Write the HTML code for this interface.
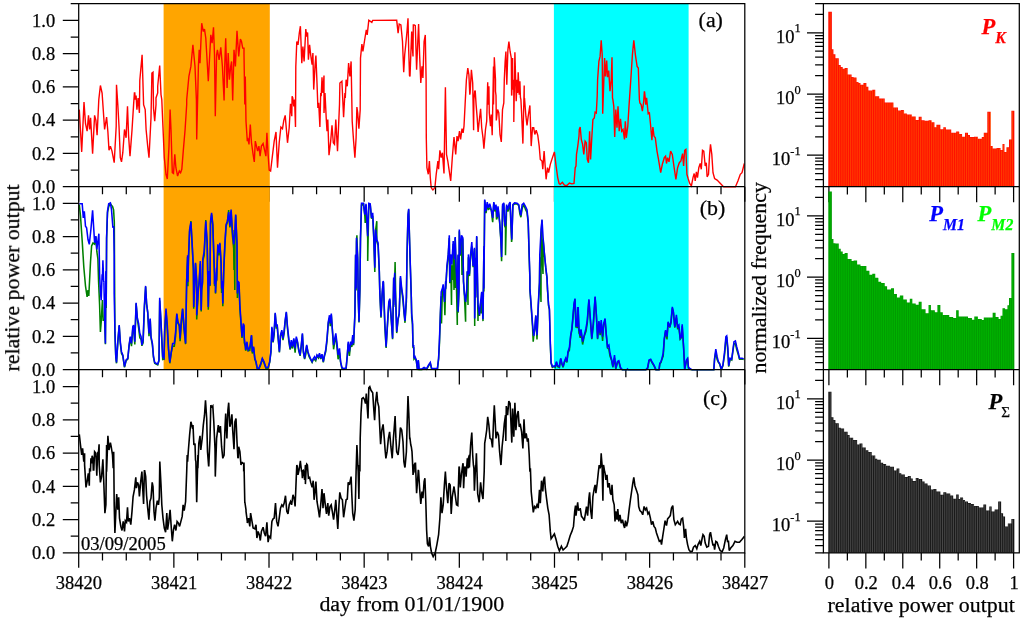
<!DOCTYPE html>
<html><head><meta charset="utf-8"><title>chart</title>
<style>html,body{margin:0;padding:0;background:#fff;overflow:hidden}body{width:1024px;height:622px;position:relative;font-family:"Liberation Serif",serif}</style></head>
<body>
<svg width="1024" height="622" viewBox="0 0 1024 622" style="position:absolute;left:0;top:0">
<rect width="1024" height="622" fill="#fff"/>
<path d="M70.70 3.60L78.70 3.60M62.80 186.70L78.70 186.70M70.70 170.07L78.70 170.07M62.80 153.44L78.70 153.44M70.70 136.81L78.70 136.81M62.80 120.18L78.70 120.18M70.70 103.55L78.70 103.55M62.80 86.92L78.70 86.92M70.70 70.29L78.70 70.29M62.80 53.66L78.70 53.66M70.70 37.03L78.70 37.03M62.80 20.40L78.70 20.40M62.80 369.60L78.70 369.60M70.70 352.97L78.70 352.97M62.80 336.34L78.70 336.34M70.70 319.71L78.70 319.71M62.80 303.08L78.70 303.08M70.70 286.45L78.70 286.45M62.80 269.82L78.70 269.82M70.70 253.19L78.70 253.19M62.80 236.56L78.70 236.56M70.70 219.93L78.70 219.93M62.80 203.30L78.70 203.30M62.80 552.80L78.70 552.80M70.70 536.17L78.70 536.17M62.80 519.54L78.70 519.54M70.70 502.91L78.70 502.91M62.80 486.28L78.70 486.28M70.70 469.65L78.70 469.65M62.80 453.02L78.70 453.02M70.70 436.39L78.70 436.39M62.80 419.76L78.70 419.76M70.70 403.13L78.70 403.13M62.80 386.50L78.70 386.50M78.70 186.70L78.70 201.70M102.49 186.70L102.49 194.30M126.28 186.70L126.28 194.30M150.07 186.70L150.07 194.30M173.86 186.70L173.86 201.70M197.65 186.70L197.65 194.30M221.44 186.70L221.44 194.30M245.22 186.70L245.22 194.30M269.01 186.70L269.01 201.70M292.80 186.70L292.80 194.30M316.59 186.70L316.59 194.30M340.38 186.70L340.38 194.30M364.17 186.70L364.17 201.70M387.96 186.70L387.96 194.30M411.75 186.70L411.75 194.30M435.54 186.70L435.54 194.30M459.33 186.70L459.33 201.70M483.12 186.70L483.12 194.30M506.91 186.70L506.91 194.30M530.70 186.70L530.70 194.30M554.49 186.70L554.49 201.70M578.27 186.70L578.27 194.30M602.06 186.70L602.06 194.30M625.85 186.70L625.85 194.30M649.64 186.70L649.64 201.70M673.43 186.70L673.43 194.30M697.22 186.70L697.22 194.30M721.01 186.70L721.01 194.30M744.80 186.70L744.80 201.70M78.70 369.60L78.70 384.60M102.49 369.60L102.49 377.20M126.28 369.60L126.28 377.20M150.07 369.60L150.07 377.20M173.86 369.60L173.86 384.60M197.65 369.60L197.65 377.20M221.44 369.60L221.44 377.20M245.22 369.60L245.22 377.20M269.01 369.60L269.01 384.60M292.80 369.60L292.80 377.20M316.59 369.60L316.59 377.20M340.38 369.60L340.38 377.20M364.17 369.60L364.17 384.60M387.96 369.60L387.96 377.20M411.75 369.60L411.75 377.20M435.54 369.60L435.54 377.20M459.33 369.60L459.33 384.60M483.12 369.60L483.12 377.20M506.91 369.60L506.91 377.20M530.70 369.60L530.70 377.20M554.49 369.60L554.49 384.60M578.27 369.60L578.27 377.20M602.06 369.60L602.06 377.20M625.85 369.60L625.85 377.20M649.64 369.60L649.64 384.60M673.43 369.60L673.43 377.20M697.22 369.60L697.22 377.20M721.01 369.60L721.01 377.20M744.80 369.60L744.80 384.60M78.70 552.80L78.70 567.80M102.49 552.80L102.49 560.40M126.28 552.80L126.28 560.40M150.07 552.80L150.07 560.40M173.86 552.80L173.86 567.80M197.65 552.80L197.65 560.40M221.44 552.80L221.44 560.40M245.22 552.80L245.22 560.40M269.01 552.80L269.01 567.80M292.80 552.80L292.80 560.40M316.59 552.80L316.59 560.40M340.38 552.80L340.38 560.40M364.17 552.80L364.17 567.80M387.96 552.80L387.96 560.40M411.75 552.80L411.75 560.40M435.54 552.80L435.54 560.40M459.33 552.80L459.33 567.80M483.12 552.80L483.12 560.40M506.91 552.80L506.91 560.40M530.70 552.80L530.70 560.40M554.49 552.80L554.49 567.80M578.27 552.80L578.27 560.40M602.06 552.80L602.06 560.40M625.85 552.80L625.85 560.40M649.64 552.80L649.64 567.80M673.43 552.80L673.43 560.40M697.22 552.80L697.22 560.40M721.01 552.80L721.01 560.40M744.80 552.80L744.80 567.80M828.90 186.70L828.90 202.30M847.37 186.70L847.37 194.50M865.84 186.70L865.84 202.30M884.31 186.70L884.31 194.50M902.78 186.70L902.78 202.30M921.25 186.70L921.25 194.50M939.72 186.70L939.72 202.30M958.19 186.70L958.19 194.50M976.66 186.70L976.66 202.30M995.13 186.70L995.13 194.50M1013.60 186.70L1013.60 202.30M828.90 369.60L828.90 385.20M847.37 369.60L847.37 377.40M865.84 369.60L865.84 385.20M884.31 369.60L884.31 377.40M902.78 369.60L902.78 385.20M921.25 369.60L921.25 377.40M939.72 369.60L939.72 385.20M958.19 369.60L958.19 377.40M976.66 369.60L976.66 385.20M995.13 369.60L995.13 377.40M1013.60 369.60L1013.60 385.20M828.90 552.80L828.90 568.40M847.37 552.80L847.37 560.60M865.84 552.80L865.84 568.40M884.31 552.80L884.31 560.60M902.78 552.80L902.78 568.40M921.25 552.80L921.25 560.60M939.72 552.80L939.72 568.40M958.19 552.80L958.19 560.60M976.66 552.80L976.66 568.40M995.13 552.80L995.13 560.60M1013.60 552.80L1013.60 568.40M815.10 552.80L823.40 552.80M807.00 32.80L823.40 32.80M815.10 14.38L823.40 14.38M815.10 3.60L823.40 3.60M807.00 94.00L823.40 94.00M815.10 75.58L823.40 75.58M815.10 64.80L823.40 64.80M815.10 57.15L823.40 57.15M815.10 51.22L823.40 51.22M815.10 46.38L823.40 46.38M815.10 42.28L823.40 42.28M815.10 38.73L823.40 38.73M815.10 35.60L823.40 35.60M807.00 155.20L823.40 155.20M815.10 136.78L823.40 136.78M815.10 126.00L823.40 126.00M815.10 118.35L823.40 118.35M815.10 112.42L823.40 112.42M815.10 107.58L823.40 107.58M815.10 103.48L823.40 103.48M815.10 99.93L823.40 99.93M815.10 96.80L823.40 96.80M815.10 179.55L823.40 179.55M815.10 173.62L823.40 173.62M815.10 168.78L823.40 168.78M815.10 164.68L823.40 164.68M815.10 161.13L823.40 161.13M815.10 158.00L823.40 158.00M807.00 215.90L823.40 215.90M815.10 197.48L823.40 197.48M815.10 186.70L823.40 186.70M807.00 277.10L823.40 277.10M815.10 258.68L823.40 258.68M815.10 247.90L823.40 247.90M815.10 240.25L823.40 240.25M815.10 234.32L823.40 234.32M815.10 229.48L823.40 229.48M815.10 225.38L823.40 225.38M815.10 221.83L823.40 221.83M815.10 218.70L823.40 218.70M807.00 338.30L823.40 338.30M815.10 319.88L823.40 319.88M815.10 309.10L823.40 309.10M815.10 301.45L823.40 301.45M815.10 295.52L823.40 295.52M815.10 290.68L823.40 290.68M815.10 286.58L823.40 286.58M815.10 283.03L823.40 283.03M815.10 279.90L823.40 279.90M815.10 362.65L823.40 362.65M815.10 356.72L823.40 356.72M815.10 351.88L823.40 351.88M815.10 347.78L823.40 347.78M815.10 344.23L823.40 344.23M815.10 341.10L823.40 341.10M807.00 398.80L823.40 398.80M815.10 380.38L823.40 380.38M815.10 369.60L823.40 369.60M807.00 460.00L823.40 460.00M815.10 441.58L823.40 441.58M815.10 430.80L823.40 430.80M815.10 423.15L823.40 423.15M815.10 417.22L823.40 417.22M815.10 412.38L823.40 412.38M815.10 408.28L823.40 408.28M815.10 404.73L823.40 404.73M815.10 401.60L823.40 401.60M807.00 521.20L823.40 521.20M815.10 502.78L823.40 502.78M815.10 492.00L823.40 492.00M815.10 484.35L823.40 484.35M815.10 478.42L823.40 478.42M815.10 473.58L823.40 473.58M815.10 469.48L823.40 469.48M815.10 465.93L823.40 465.93M815.10 462.80L823.40 462.80M815.10 545.55L823.40 545.55M815.10 539.62L823.40 539.62M815.10 534.78L823.40 534.78M815.10 530.68L823.40 530.68M815.10 527.13L823.40 527.13M815.10 524.00L823.40 524.00" stroke="#000" stroke-width="1.25" fill="none"/>
<rect x="163.6" y="3.6" width="106.2" height="366.0" fill="#ffa500"/>
<rect x="553.9" y="3.6" width="134.7" height="366.0" fill="#00ffff"/>
<defs><clipPath id="ca"><rect x="78.7" y="3.6" width="666.1" height="187.1"/></clipPath><clipPath id="cb"><rect x="78.7" y="186.7" width="666.1" height="183.7"/></clipPath><clipPath id="cc"><rect x="78.7" y="369.6" width="666.1" height="189.2"/></clipPath></defs>
<path d="M828.31 186.70L828.31 11.80 L831.86 11.80L831.86 49.30 L833.44 49.30L833.44 54.30 L835.41 54.30L835.41 58.20 L838.77 58.20L838.77 65.10 L840.74 65.10L840.74 67.10 L842.71 67.10L842.71 68.70 L844.69 68.70L844.69 68.10 L847.65 68.10L847.65 74.60 L851.59 74.60L851.59 76.90 L853.56 76.90L853.56 77.50 L856.52 77.50L856.52 81.90 L858.50 81.90L858.50 82.90 L860.47 82.90L860.47 84.80 L863.43 84.80L863.43 82.90 L866.39 82.90L866.39 86.80 L868.36 86.80L868.36 90.40 L872.31 90.40L872.31 89.80 L875.26 89.80L875.26 96.30 L879.21 96.30L879.21 98.60 L881.18 98.60L881.18 98.60 L884.73 98.60L884.73 102.60 L887.10 102.60L887.10 102.60 L890.06 102.60L890.06 102.60 L893.41 102.60L893.41 107.50 L897.95 107.50L897.95 110.50 L900.91 110.50L900.91 110.10 L903.87 110.10L903.87 113.40 L906.83 113.40L906.83 114.40 L911.76 114.40L911.76 116.40 L915.71 116.40L915.71 120.00 L918.67 120.00L918.67 116.80 L921.63 116.80L921.63 120.30 L924.58 120.30L924.58 120.70 L928.53 120.70L928.53 120.20 L931.49 120.20L931.49 122.30 L934.45 122.30L934.45 127.20 L936.42 127.20L936.42 124.80 L940.37 124.80L940.37 129.20 L943.33 129.20L943.33 127.20 L945.89 127.20L945.89 129.60 L951.22 129.60L951.22 132.70 L956.15 132.70L956.15 131.60 L959.11 131.60L959.11 134.10 L962.07 134.10L962.07 136.70 L965.03 136.70L965.03 132.70 L967.99 132.70L967.99 135.10 L969.96 135.10L969.96 137.10 L973.90 137.10L973.90 136.70 L977.85 136.70L977.85 138.70 L981.79 138.70L981.79 137.10 L983.77 137.10L983.77 132.70 L987.32 132.70L987.32 111.80 L990.67 111.80L990.67 146.00 L992.65 146.00L992.65 148.50 L996.59 148.50L996.59 147.90 L1000.54 147.90L1000.54 149.90 L1002.51 149.90L1002.51 144.00 L1004.48 144.00L1004.48 151.90 L1006.45 151.90L1006.45 147.30 L1009.02 147.30L1009.02 139.40 L1011.39 139.40L1011.39 110.80 L1014.35 110.80L1014.35 186.70 Z" fill="#ff0a00"/>
<path d="M830.15 12.30 V186.70M832.00 49.80 V186.70M833.84 54.80 V186.70M835.68 58.70 V186.70M837.52 58.70 V186.70M839.36 65.60 V186.70M841.21 67.60 V186.70M843.05 69.20 V186.70M844.89 68.60 V186.70M846.73 68.60 V186.70M848.57 75.10 V186.70M850.42 75.10 V186.70M852.26 77.40 V186.70M854.10 78.00 V186.70M855.94 78.00 V186.70M857.78 82.40 V186.70M859.63 83.40 V186.70M861.47 85.30 V186.70M863.31 85.30 V186.70M865.15 83.40 V186.70M866.99 87.30 V186.70M868.83 90.90 V186.70M870.68 90.90 V186.70M872.52 90.30 V186.70M874.36 90.30 V186.70M876.20 96.80 V186.70M878.04 96.80 V186.70M879.89 99.10 V186.70M881.73 99.10 V186.70M883.57 99.10 V186.70M885.41 103.10 V186.70M887.25 103.10 V186.70M889.10 103.10 V186.70M890.94 103.10 V186.70M892.78 103.10 V186.70M894.62 108.00 V186.70M896.46 108.00 V186.70M898.31 111.00 V186.70M900.15 111.00 V186.70M901.99 110.60 V186.70M903.83 110.60 V186.70M905.67 113.90 V186.70M907.51 114.90 V186.70M909.36 114.90 V186.70M911.20 114.90 V186.70M913.04 116.90 V186.70M914.88 116.90 V186.70M916.72 120.50 V186.70M918.57 120.50 V186.70M920.41 117.30 V186.70M922.25 120.80 V186.70M924.09 120.80 V186.70M925.93 121.20 V186.70M927.78 121.20 V186.70M929.62 120.70 V186.70M931.46 120.70 V186.70M933.30 122.80 V186.70M935.14 127.70 V186.70M936.99 125.30 V186.70M938.83 125.30 V186.70M940.67 129.70 V186.70M942.51 129.70 V186.70M944.35 127.70 V186.70M946.20 130.10 V186.70M948.04 130.10 V186.70M949.88 130.10 V186.70M951.72 133.20 V186.70M953.56 133.20 V186.70M955.40 133.20 V186.70M957.25 132.10 V186.70M959.09 132.10 V186.70M960.93 134.60 V186.70M962.77 137.20 V186.70M964.61 137.20 V186.70M966.46 133.20 V186.70M968.30 135.60 V186.70M970.14 137.60 V186.70M971.98 137.60 V186.70M973.82 137.60 V186.70M975.67 137.20 V186.70M977.51 137.20 V186.70M979.35 139.20 V186.70M981.19 139.20 V186.70M983.03 137.60 V186.70M984.88 133.20 V186.70M986.72 133.20 V186.70M988.56 112.30 V186.70M990.40 112.30 V186.70M992.24 146.50 V186.70M994.08 149.00 V186.70M995.93 149.00 V186.70M997.77 148.40 V186.70M999.61 148.40 V186.70M1001.45 150.40 V186.70M1003.29 144.50 V186.70M1005.14 152.40 V186.70M1006.98 147.80 V186.70M1008.82 147.80 V186.70M1010.66 139.90 V186.70M1012.50 111.30 V186.70" stroke="#ff8a00" stroke-width="0.40" fill="none"/>
<path d="M828.31 369.60L828.31 191.50 L831.86 191.50L831.86 238.90 L833.44 238.90L833.44 243.20 L835.41 243.20L835.41 243.60 L838.77 243.60L838.77 248.70 L840.74 248.70L840.74 251.50 L842.71 251.50L842.71 254.10 L844.69 254.10L844.69 253.10 L847.65 253.10L847.65 259.00 L851.59 259.00L851.59 261.00 L853.56 261.00L853.56 260.60 L857.12 260.60L857.12 264.50 L860.47 264.50L860.47 265.90 L863.43 265.90L863.43 265.90 L866.39 265.90L866.39 270.80 L869.35 270.80L869.35 274.80 L872.31 274.80L872.31 273.80 L875.26 273.80L875.26 277.70 L878.22 277.70L878.22 281.70 L881.18 281.70L881.18 283.10 L884.73 283.10L884.73 286.20 L887.10 286.20L887.10 289.60 L891.05 289.60L891.05 288.20 L894.01 288.20L894.01 294.10 L896.97 294.10L896.97 297.50 L899.92 297.50L899.92 295.50 L903.28 295.50L903.28 299.40 L906.83 299.40L906.83 302.40 L909.79 302.40L909.79 298.80 L912.35 298.80L912.35 303.40 L915.71 303.40L915.71 304.80 L918.67 304.80L918.67 301.70 L921.63 301.70L921.63 309.20 L925.57 309.20L925.57 313.20 L928.53 313.20L928.53 304.90 L930.90 304.90L930.90 310.20 L934.84 310.20L934.84 312.20 L937.41 312.20L937.41 304.90 L940.37 304.90L940.37 312.20 L942.73 312.20L942.73 315.10 L949.24 315.10L949.24 317.10 L953.19 317.10L953.19 318.10 L956.15 318.10L956.15 310.20 L958.71 310.20L958.71 316.50 L964.04 316.50L964.04 316.50 L967.99 316.50L967.99 318.10 L971.93 318.10L971.93 319.70 L974.30 319.70L974.30 316.50 L977.85 316.50L977.85 319.10 L981.79 319.10L981.79 320.00 L983.77 320.00L983.77 317.50 L988.70 317.50L988.70 317.50 L992.65 317.50L992.65 312.80 L995.60 312.80L995.60 317.10 L998.56 317.10L998.56 319.10 L1000.54 319.10L1000.54 315.70 L1002.51 315.70L1002.51 308.20 L1005.07 308.20L1005.07 309.20 L1007.44 309.20L1007.44 305.30 L1009.02 305.30L1009.02 298.00 L1011.39 298.00L1011.39 253.00 L1014.35 253.00L1014.35 369.60 Z" fill="#009a00"/>
<path d="M830.15 192.00 V369.60M832.00 239.40 V369.60M833.84 243.70 V369.60M835.68 244.10 V369.60M837.52 244.10 V369.60M839.36 249.20 V369.60M841.21 252.00 V369.60M843.05 254.60 V369.60M844.89 253.60 V369.60M846.73 253.60 V369.60M848.57 259.50 V369.60M850.42 259.50 V369.60M852.26 261.50 V369.60M854.10 261.10 V369.60M855.94 261.10 V369.60M857.78 265.00 V369.60M859.63 265.00 V369.60M861.47 266.40 V369.60M863.31 266.40 V369.60M865.15 266.40 V369.60M866.99 271.30 V369.60M868.83 271.30 V369.60M870.68 275.30 V369.60M872.52 274.30 V369.60M874.36 274.30 V369.60M876.20 278.20 V369.60M878.04 278.20 V369.60M879.89 282.20 V369.60M881.73 283.60 V369.60M883.57 283.60 V369.60M885.41 286.70 V369.60M887.25 290.10 V369.60M889.10 290.10 V369.60M890.94 290.10 V369.60M892.78 288.70 V369.60M894.62 294.60 V369.60M896.46 294.60 V369.60M898.31 298.00 V369.60M900.15 296.00 V369.60M901.99 296.00 V369.60M903.83 299.90 V369.60M905.67 299.90 V369.60M907.51 302.90 V369.60M909.36 302.90 V369.60M911.20 299.30 V369.60M913.04 303.90 V369.60M914.88 303.90 V369.60M916.72 305.30 V369.60M918.57 305.30 V369.60M920.41 302.20 V369.60M922.25 309.70 V369.60M924.09 309.70 V369.60M925.93 313.70 V369.60M927.78 313.70 V369.60M929.62 305.40 V369.60M931.46 310.70 V369.60M933.30 310.70 V369.60M935.14 312.70 V369.60M936.99 312.70 V369.60M938.83 305.40 V369.60M940.67 312.70 V369.60M942.51 312.70 V369.60M944.35 315.60 V369.60M946.20 315.60 V369.60M948.04 315.60 V369.60M949.88 317.60 V369.60M951.72 317.60 V369.60M953.56 318.60 V369.60M955.40 318.60 V369.60M957.25 310.70 V369.60M959.09 317.00 V369.60M960.93 317.00 V369.60M962.77 317.00 V369.60M964.61 317.00 V369.60M966.46 317.00 V369.60M968.30 318.60 V369.60M970.14 318.60 V369.60M971.98 320.20 V369.60M973.82 320.20 V369.60M975.67 317.00 V369.60M977.51 317.00 V369.60M979.35 319.60 V369.60M981.19 319.60 V369.60M983.03 320.50 V369.60M984.88 318.00 V369.60M986.72 318.00 V369.60M988.56 318.00 V369.60M990.40 318.00 V369.60M992.24 318.00 V369.60M994.08 313.30 V369.60M995.93 317.60 V369.60M997.77 317.60 V369.60M999.61 319.60 V369.60M1001.45 316.20 V369.60M1003.29 308.70 V369.60M1005.14 309.70 V369.60M1006.98 309.70 V369.60M1008.82 305.80 V369.60M1010.66 298.50 V369.60M1012.50 253.50 V369.60" stroke="#00cc00" stroke-width="0.50" fill="none"/>
<path d="M828.31 552.80L828.31 391.70 L831.47 391.70L831.47 417.30 L833.44 417.30L833.44 419.90 L835.41 419.90L835.41 423.30 L838.77 423.30L838.77 427.80 L840.74 427.80L840.74 428.60 L844.10 428.60L844.10 431.70 L847.65 431.70L847.65 435.10 L849.62 435.10L849.62 437.70 L853.17 437.70L853.17 440.00 L857.12 440.00L857.12 444.60 L859.48 444.60L859.48 443.60 L862.44 443.60L862.44 447.50 L865.80 447.50L865.80 450.30 L868.36 450.30L868.36 451.90 L871.71 451.90L871.71 455.40 L875.26 455.40L875.26 458.80 L877.24 458.80L877.24 459.70 L880.79 459.70L880.79 462.70 L883.16 462.70L883.16 464.10 L886.12 464.10L886.12 465.70 L890.06 465.70L890.06 466.70 L894.01 466.70L894.01 470.60 L896.57 470.60L896.57 468.60 L899.33 468.60L899.33 473.20 L901.31 473.20L901.31 474.50 L904.86 474.50L904.86 477.10 L907.82 477.10L907.82 475.90 L910.77 475.90L910.77 478.50 L912.75 478.50L912.75 481.10 L915.71 481.10L915.71 477.90 L918.67 477.90L918.67 479.10 L922.22 479.10L922.22 481.40 L924.58 481.40L924.58 483.40 L927.54 483.40L927.54 485.50 L930.90 485.50L930.90 489.50 L933.46 489.50L933.46 488.90 L936.42 488.90L936.42 491.60 L940.37 491.60L940.37 494.80 L943.33 494.80L943.33 492.20 L946.28 492.20L946.28 493.60 L950.23 493.60L950.23 495.60 L953.19 495.60L953.19 498.70 L956.15 498.70L956.15 494.60 L958.71 494.60L958.71 499.10 L960.09 499.10L960.09 497.60 L963.05 497.60L963.05 500.10 L965.03 500.10L965.03 501.50 L967.99 501.50L967.99 503.10 L970.94 503.10L970.94 504.10 L973.90 504.10L973.90 506.00 L978.84 506.00L978.84 507.40 L983.37 507.40L983.37 504.50 L986.13 504.50L986.13 510.60 L989.29 510.60L989.29 506.40 L991.66 506.40L991.66 511.60 L994.62 511.60L994.62 509.60 L998.17 509.60L998.17 501.50 L1001.13 501.50L1001.13 513.30 L1003.10 513.30L1003.10 516.50 L1005.07 516.50L1005.07 526.40 L1007.84 526.40L1007.84 523.40 L1011.39 523.40L1011.39 518.90 L1014.35 518.90L1014.35 552.80 Z" fill="#141414"/>
<path d="M830.15 392.20 V552.80M832.00 417.80 V552.80M833.84 420.40 V552.80M835.68 423.80 V552.80M837.52 423.80 V552.80M839.36 428.30 V552.80M841.21 429.10 V552.80M843.05 429.10 V552.80M844.89 432.20 V552.80M846.73 432.20 V552.80M848.57 435.60 V552.80M850.42 438.20 V552.80M852.26 438.20 V552.80M854.10 440.50 V552.80M855.94 440.50 V552.80M857.78 445.10 V552.80M859.63 444.10 V552.80M861.47 444.10 V552.80M863.31 448.00 V552.80M865.15 448.00 V552.80M866.99 450.80 V552.80M868.83 452.40 V552.80M870.68 452.40 V552.80M872.52 455.90 V552.80M874.36 455.90 V552.80M876.20 459.30 V552.80M878.04 460.20 V552.80M879.89 460.20 V552.80M881.73 463.20 V552.80M883.57 464.60 V552.80M885.41 464.60 V552.80M887.25 466.20 V552.80M889.10 466.20 V552.80M890.94 467.20 V552.80M892.78 467.20 V552.80M894.62 471.10 V552.80M896.46 471.10 V552.80M898.31 469.10 V552.80M900.15 473.70 V552.80M901.99 475.00 V552.80M903.83 475.00 V552.80M905.67 477.60 V552.80M907.51 477.60 V552.80M909.36 476.40 V552.80M911.20 479.00 V552.80M913.04 481.60 V552.80M914.88 481.60 V552.80M916.72 478.40 V552.80M918.57 478.40 V552.80M920.41 479.60 V552.80M922.25 481.90 V552.80M924.09 481.90 V552.80M925.93 483.90 V552.80M927.78 486.00 V552.80M929.62 486.00 V552.80M931.46 490.00 V552.80M933.30 490.00 V552.80M935.14 489.40 V552.80M936.99 492.10 V552.80M938.83 492.10 V552.80M940.67 495.30 V552.80M942.51 495.30 V552.80M944.35 492.70 V552.80M946.20 492.70 V552.80M948.04 494.10 V552.80M949.88 494.10 V552.80M951.72 496.10 V552.80M953.56 499.20 V552.80M955.40 499.20 V552.80M957.25 495.10 V552.80M959.09 499.60 V552.80M960.93 498.10 V552.80M962.77 498.10 V552.80M964.61 500.60 V552.80M966.46 502.00 V552.80M968.30 503.60 V552.80M970.14 503.60 V552.80M971.98 504.60 V552.80M973.82 504.60 V552.80M975.67 506.50 V552.80M977.51 506.50 V552.80M979.35 507.90 V552.80M981.19 507.90 V552.80M983.03 507.90 V552.80M984.88 505.00 V552.80M986.72 511.10 V552.80M988.56 511.10 V552.80M990.40 506.90 V552.80M992.24 512.10 V552.80M994.08 512.10 V552.80M995.93 510.10 V552.80M997.77 510.10 V552.80M999.61 502.00 V552.80M1001.45 513.80 V552.80M1003.29 517.00 V552.80M1005.14 526.90 V552.80M1006.98 526.90 V552.80M1008.82 523.90 V552.80M1010.66 523.90 V552.80M1012.50 519.40 V552.80" stroke="#868686" stroke-width="0.45" fill="none"/>
<g fill="none" stroke-linejoin="miter" stroke-miterlimit="3">
<path d="M79.3 109.6L81.7 151.9L84.0 102.1L85.5 123.7L87.1 131.2L88.5 115.4L89.6 129.5L90.6 117.9L92.6 153.6L94.6 115.4L95.9 120.4L97.1 135.3L98.8 99.6L100.4 85.5L102.1 93.0L104.6 129.5L106.6 117.1L107.9 132.0L109.0 150.3L110.4 146.1L112.0 151.1L114.2 162.7L116.2 126.2L116.5 84.7L117.8 104.6L119.0 126.2L120.3 157.7L121.5 161.9L122.8 152.7L124.5 129.5L126.1 137.8L127.5 106.3L128.6 136.1L130.0 156.1L132.0 130.3L133.6 104.6L134.4 93.0L134.8 93.0L135.3 99.6L136.1 95.5L136.9 109.6L138.1 98.0L139.4 112.9L139.8 80.5L142.1 54.8L143.6 104.6L145.2 109.6L146.1 129.5L147.7 146.1L149.0 157.7L151.0 117.9L151.9 73.0L153.0 72.2L153.5 107.9L154.7 121.2L156.0 104.6L156.0 97.9L157.7 93.0L157.7 86.3L159.7 65.6L161.0 94.6L161.8 99.6L162.7 121.2L164.3 157.7L166.0 174.3L167.3 179.0L169.0 146.1L170.1 109.6L171.0 129.5L172.3 172.7L173.5 173.5L174.8 154.4L175.9 167.7L177.6 176.0L179.3 171.0L180.6 172.7L181.8 169.3L183.4 149.4L185.1 129.5L186.7 104.6L186.7 99.6L188.9 76.4L190.9 66.4L192.9 44.8L195.0 66.4L196.4 99.6L196.7 139.5L198.4 66.4L199.2 49.8L200.0 63.1L201.7 23.2L203.3 31.5L204.5 29.1L205.8 38.2L208.3 81.3L210.0 49.8L210.8 34.9L212.1 43.2L213.5 27.4L214.5 54.8L215.3 116.2L216.6 54.8L217.4 49.8L219.1 59.8L220.8 47.3L222.4 66.4L224.1 100.5L224.7 66.4L225.7 38.2L227.1 88.0L228.2 53.1L229.4 79.7L230.7 66.4L231.6 61.4L232.7 100.5L234.0 49.8L235.4 66.4L237.0 30.7L238.7 56.4L240.4 39.0L241.5 41.5L242.7 48.1L244.0 48.1L244.0 54.8L244.8 104.6L245.3 76.4L246.0 121.2L247.3 141.1L247.7 137.8L249.0 144.4L250.3 124.5L251.5 142.8L253.1 154.4L254.3 161.9L255.3 141.1L256.5 146.1L257.6 151.1L258.9 146.1L260.1 156.1L261.4 146.1L263.1 143.6L264.8 151.1L265.9 156.1L266.9 132.8L268.1 154.4L269.2 170.2L270.6 171.0L272.2 157.7L274.2 141.1L276.0 132.0L277.5 167.7L279.2 142.8L280.9 127.0L282.5 128.7L283.8 120.4L285.2 115.4L287.5 142.8L289.2 127.8L290.5 103.8L291.8 116.2L292.1 96.3L292.8 98.0L293.8 106.3L294.6 99.6L295.5 127.0L295.8 66.4L296.8 41.5L298.0 44.8L299.3 33.2L300.4 26.2L301.8 63.1L302.9 46.5L304.1 61.4L305.8 29.1L306.7 36.5L307.6 32.4L308.4 59.8L309.6 44.8L310.7 54.8L312.1 64.7L312.9 53.1L313.7 89.6L315.0 66.4L315.9 55.6L317.0 83.0L317.9 107.9L318.7 102.9L319.9 127.0L320.7 93.0L321.2 96.3L322.0 77.2L322.9 93.0L324.0 75.5L324.0 112.9L325.0 93.0L326.2 117.9L327.0 131.2L327.8 119.5L329.0 155.2L330.7 141.1L332.0 125.4L333.3 142.8L334.5 144.4L335.8 119.5L337.5 151.1L339.5 104.6L339.9 83.0L341.9 81.3L343.6 117.1L344.9 93.0L345.3 98.0L346.1 79.7L347.3 86.3L348.6 63.1L349.9 76.4L351.1 61.4L352.2 121.2L353.6 141.1L354.9 157.7L356.1 137.8L356.9 107.1L357.7 112.9L358.9 128.7L360.2 109.6L360.5 58.1L361.9 44.0L362.9 51.5L363.9 44.8L365.2 36.5L366.3 29.9L367.2 34.9L368.8 20.3L371.8 22.4L372.7 20.4L396.7 20.3L398.1 33.2L399.2 24.1L400.9 24.9L402.5 41.5L403.7 72.2L404.7 54.8L405.9 43.2L407.0 31.5L408.0 18.3L408.7 49.8L409.5 75.5L410.0 76.4L410.8 54.8L410.8 54.8L411.7 31.5L412.0 41.5L413.0 56.4L413.3 24.9L414.2 24.9L415.3 25.7L416.6 69.7L417.8 41.5L418.6 24.1L419.6 54.8L420.8 83.0L422.0 66.4L422.9 78.0L424.1 41.5L425.3 34.9L426.1 79.7L426.3 137.8L426.9 167.7L428.3 174.3L429.4 161.0L430.3 177.6L431.2 187.6L432.9 190.1L434.9 187.6L436.2 174.3L437.9 161.0L438.6 169.3L439.9 150.3L441.2 157.7L442.4 152.7L444.0 173.5L445.4 87.2L446.5 154.4L447.8 161.0L449.0 169.3L450.7 181.0L452.3 157.7L454.0 137.0L455.7 154.4L457.0 136.1L458.1 141.1L459.5 131.2L460.6 139.5L462.0 128.7L463.1 132.8L464.0 126.2L465.1 104.6L466.4 79.7L467.8 68.1L468.9 74.7L469.8 94.6L470.1 93.0L471.4 69.7L472.7 83.0L473.6 130.3L473.9 99.6L474.7 91.3L475.2 90.5L476.1 104.6L477.2 117.9L478.1 132.0L479.2 121.2L480.6 108.8L481.7 127.8L483.0 137.8L483.9 148.6L485.5 129.5L486.7 121.2L487.7 82.2L488.0 104.6L488.9 86.3L489.3 112.9L490.5 126.2L491.3 114.6L492.2 135.3L493.5 66.4L493.5 104.6L494.3 57.3L495.5 79.7L495.5 91.3L496.0 95.5L496.3 120.4L497.6 109.6L498.8 112.9L500.0 134.5L501.3 142.0L502.5 109.6L503.8 102.9L504.3 79.7L505.1 62.3L505.9 51.5L506.8 84.7L507.9 49.8L508.9 41.5L510.1 51.5L511.3 58.1L511.6 95.5L511.8 94.6L512.6 58.1L512.6 89.7L513.8 79.7L513.8 122.0L514.9 52.3L516.2 101.3L517.1 79.7L517.6 93.0L518.2 72.2L519.2 94.6L519.9 81.3L520.4 97.1L520.9 99.6L521.6 112.9L522.9 143.6L524.2 85.5L524.2 104.6L524.5 98.0L525.9 116.2L527.0 125.4L528.2 116.2L529.9 105.4L531.2 146.1L532.5 127.8L533.7 127.8L534.8 134.5L536.2 130.3L537.8 135.3L539.2 146.1L540.3 159.4L542.0 161.0L542.8 169.3L544.1 151.1L545.3 167.7L546.1 179.3L547.5 167.7L548.6 172.7L550.3 164.4L551.9 159.4L554.4 151.9L556.1 166.0L557.7 177.6L559.1 183.5L560.2 184.3L562.4 182.3L564.4 185.1L566.9 185.6L569.4 183.0L571.9 183.9L574.0 183.5L575.2 167.7L576.0 166.0L576.5 154.4L577.3 149.4L578.0 144.4L579.0 136.1L579.3 129.5L580.2 127.0L581.3 139.5L582.6 144.4L583.8 154.4L585.1 141.1L586.3 142.8L587.3 159.4L588.5 162.7L589.6 131.2L590.6 159.4L591.8 137.8L592.9 119.5L594.3 117.9L595.1 112.1L596.3 112.9L597.2 96.3L597.6 79.7L598.9 61.4L600.1 56.4L601.2 40.3L602.2 54.8L602.7 113.7L604.6 58.1L605.5 76.4L606.7 60.6L607.5 77.2L608.7 70.6L610.0 91.3L610.0 91.3L611.2 79.7L612.0 57.3L612.5 98.0L612.9 99.6L613.8 106.3L614.7 137.0L615.8 109.6L617.0 127.8L618.0 106.3L619.2 131.2L620.5 118.7L621.7 131.2L623.0 129.5L624.5 139.5L625.3 121.2L626.3 137.8L627.8 126.2L629.1 104.6L630.8 79.7L632.4 54.8L633.8 40.3L635.4 54.8L637.1 66.4L638.3 68.1L639.4 99.6L639.9 102.9L641.1 104.6L642.4 111.2L643.7 101.3L644.4 91.3L644.6 92.2L645.4 99.6L645.7 104.6L646.6 97.9L646.7 98.8L648.2 113.7L649.4 112.9L650.7 126.2L651.9 140.3L652.9 127.0L654.0 136.1L655.3 137.8L657.0 151.1L658.5 159.4L660.7 172.7L662.3 164.4L664.3 157.7L665.6 156.1L666.5 163.5L667.6 157.7L669.0 161.9L670.6 151.1L672.3 154.4L673.9 166.0L675.9 179.3L677.6 167.7L679.3 162.7L680.9 161.0L682.6 153.6L683.6 166.0L684.7 150.3L685.9 149.4L686.9 174.3L688.1 178.5L689.7 183.5L691.4 185.9L693.0 177.6L694.2 173.5L695.2 181.0L696.4 171.8L697.5 177.6L698.8 167.7L700.2 163.5L701.3 169.3L702.5 150.3L703.8 151.1L705.2 166.0L706.3 162.7L707.1 176.8L708.5 174.3L709.6 154.4L710.5 144.4L711.8 154.4L713.0 172.7L714.6 178.5L717.1 180.1L720.4 183.5L723.7 186.9L735.4 186.9L737.9 181.0L740.3 174.3L742.0 172.7L743.7 166.0L744.3 163.5" stroke="#ff0000" stroke-width="1.4" clip-path="url(#ca)"/>
<path d="M79.3 204.6L80.5 216.0L82.2 241.0L83.8 267.0L85.5 286.0L87.1 297.0L88.0 290.0L88.8 296.0L89.6 280.0L90.5 262.0L91.6 246.0L93.0 243.0L94.6 244.1L95.9 236.9L96.8 251.2L97.9 259.0L98.6 282.0L99.6 305.0L100.4 332.0L101.2 322.0L102.4 300.0L103.2 320.0L104.6 319.5L105.4 344.2L105.9 271.8L106.2 308.0L106.6 238.6L107.5 212.5L108.7 206.6L110.4 203.7L111.5 205.2L112.6 206.5L113.6 210.0L114.3 222.0L114.9 332.9L115.8 357.5L116.5 363.3L117.8 342.5L119.2 325.9L120.3 343.5L121.5 353.5L122.8 355.8L124.5 367.4L126.1 360.8L127.8 359.1L129.1 345.8L130.3 337.5L131.5 346.2L132.8 328.6L133.6 325.9L134.8 344.5L136.1 303.5L137.4 319.3L138.6 327.8L139.8 337.7L141.1 339.5L141.9 345.8L143.1 342.9L144.4 308.0L145.6 287.7L145.6 286.9L146.6 304.3L147.7 312.6L149.0 336.2L150.2 319.3L151.0 338.0L152.4 345.2L153.5 357.5L154.7 363.3L156.0 364.1L157.7 364.9L159.0 360.8L159.7 300.5L161.0 322.6L162.7 359.5L164.0 359.1L164.7 331.4L166.0 311.3L167.3 329.4L168.5 349.2L169.8 363.3L171.3 352.5L172.6 346.2L174.3 346.2L175.6 336.1L176.8 314.3L177.9 323.1L179.3 325.9L180.1 341.2L181.3 324.4L182.6 309.3L184.2 331.2L185.6 344.2L186.4 298.0L186.7 280.1L187.6 257.0L187.9 286.3L188.4 262.2L189.6 231.3L190.9 223.3L190.9 221.0L192.2 246.2L193.4 270.5L193.7 308.7L194.5 288.9L195.0 281.6L195.5 263.5L196.7 281.8L196.7 319.5L198.4 289.4L199.2 281.8L200.3 263.8L201.2 311.5L201.7 290.4L202.5 283.8L202.8 260.7L204.2 255.4L205.8 220.0L205.8 223.0L207.2 244.1L208.3 309.7L209.1 271.8L210.0 286.1L210.5 224.0L211.6 214.7L212.8 225.3L213.8 255.7L214.5 275.1L214.5 285.4L215.5 286.1L215.5 293.6L216.6 272.0L216.6 281.1L217.8 247.2L218.8 255.5L219.9 244.1L221.1 264.0L221.6 292.9L222.4 282.3L222.8 306.3L223.8 269.5L224.9 245.6L226.1 226.3L227.4 222.0L228.7 210.0L228.7 212.9L229.9 227.5L231.1 211.4L232.4 235.5L233.7 248.7L234.0 270.0L234.2 230.0L234.8 290.0L234.9 233.6L235.7 215.4L237.0 247.1L237.4 297.9L237.7 282.3L239.0 286.9L239.0 284.8L239.9 309.5L241.0 323.6L242.0 338.0L242.5 330.0L243.2 327.8L244.0 326.9L244.3 342.7L245.3 346.3L245.7 350.8L247.0 343.5L247.3 346.3L248.2 350.8L249.8 350.3L251.5 335.9L252.3 353.5L253.6 347.5L254.8 359.1L256.0 362.4L257.3 369.1L258.9 369.1L260.6 364.9L262.3 359.1L263.9 362.4L265.9 368.3L268.1 368.3L269.7 362.4L270.9 352.5L271.9 328.1L273.1 342.5L274.2 334.4L275.2 313.5L276.4 328.6L277.2 326.1L278.0 336.9L279.4 352.5L280.5 335.9L281.8 331.9L283.0 340.2L284.2 332.9L285.2 321.4L286.3 312.6L287.5 328.6L288.8 341.2L290.1 349.7L291.3 344.4L292.5 348.5L293.8 339.7L295.1 352.7L296.3 338.5L297.5 342.5L298.8 350.8L300.1 355.8L301.3 345.8L302.4 334.2L303.4 352.5L304.6 359.1L305.8 354.3L306.7 345.8L307.9 352.5L309.1 356.8L310.4 359.1L312.1 362.4L313.4 359.1L314.6 359.5L315.7 360.8L317.0 355.8L318.4 358.0L319.5 354.6L320.7 359.1L322.0 355.0L323.3 362.4L324.5 355.8L325.7 351.8L327.0 341.2L328.3 323.1L329.5 318.0L330.3 326.3L331.3 314.8L332.3 329.2L333.6 349.3L334.8 341.2L335.8 336.2L337.0 347.7L338.1 359.3L339.5 352.7L340.6 362.4L341.9 368.3L343.6 369.4L346.1 368.7L347.3 355.8L348.2 343.5L349.4 356.0L350.6 344.5L351.9 346.8L352.7 336.9L353.6 345.2L354.9 315.3L355.6 255.2L356.1 290.4L356.5 242.1L356.9 235.3L357.7 259.5L358.2 296.0L359.0 322.6L359.9 289.4L360.5 238.6L361.5 205.1L363.5 204.1L364.8 215.4L365.2 223.0L366.0 205.1L367.7 238.9L367.7 261.0L368.8 204.1L370.2 204.6L371.5 218.7L372.7 215.7L373.8 238.6L374.8 272.0L374.8 270.5L375.6 230.3L376.8 221.2L376.8 240.8L378.1 245.6L379.3 271.8L379.8 292.7L381.0 317.6L382.1 296.4L383.1 282.8L383.4 282.8L384.8 326.1L386.1 348.0L387.6 323.1L388.8 304.7L389.8 299.9L390.9 315.3L392.6 339.2L393.7 278.4L393.7 307.0L394.7 274.5L394.7 280.4L395.1 261.9L395.9 307.0L396.7 333.1L398.1 319.3L399.2 314.3L400.4 277.8L400.5 280.3L401.7 289.9L403.0 301.2L404.2 314.8L405.0 322.8L406.4 301.2L407.0 255.2L408.0 217.4L408.7 209.6L409.5 238.6L410.0 257.2L410.5 272.3L411.3 297.7L411.7 317.8L412.5 324.6L413.0 347.5L413.7 347.8L414.0 359.1L415.0 358.0L416.3 360.8L417.5 370.1L418.3 360.8L419.1 369.9L421.6 369.9L424.1 368.3L426.6 369.4L428.6 365.8L430.3 363.3L431.6 369.1L434.6 369.4L437.4 369.4L438.6 359.1L439.5 342.7L440.4 314.3L441.2 296.2L441.5 323.5L442.4 289.9L443.2 287.1L443.2 285.8L444.5 302.7L444.9 315.2L445.7 282.3L445.7 289.4L446.9 268.8L448.2 257.2L449.3 238.1L449.8 283.3L450.7 258.7L451.5 305.0L451.8 265.2L453.0 280.0L453.2 243.9L454.0 290.0L454.5 260.2L455.0 288.0L455.2 237.8L456.1 269.5L457.3 325.1L457.3 292.9L458.1 255.2L458.1 312.6L459.0 291.4L459.3 231.3L460.3 255.7L461.5 239.6L462.0 275.0L462.8 238.6L463.5 281.8L464.4 294.9L465.6 321.8L465.6 303.7L466.8 289.9L467.3 271.8L468.0 305.0L468.1 279.6L468.4 257.2L469.4 275.6L469.5 276.0L470.6 256.2L471.8 246.3L473.1 267.3L474.4 249.1L474.7 326.0L474.7 319.3L475.6 258.5L475.6 297.7L476.7 236.9L478.0 321.0L478.1 307.0L479.4 316.0L480.6 303.2L481.4 313.5L481.7 292.7L483.0 321.1L483.9 248.9L483.9 291.4L484.7 200.4L486.0 213.0L487.2 206.4L488.4 209.2L489.7 208.1L491.3 210.4L492.5 221.0L492.7 222.2L493.8 202.9L495.0 211.4L496.0 208.9L496.5 219.5L497.2 217.9L498.0 208.1L499.6 222.0L500.8 239.6L501.6 261.2L502.6 205.9L503.8 203.7L504.6 225.5L505.5 228.0L505.5 255.2L506.6 206.4L507.9 211.4L509.1 208.1L510.1 202.9L510.9 225.5L511.6 242.0L511.8 240.3L512.9 205.4L514.6 203.7L517.1 204.1L518.7 205.4L519.9 214.0L520.9 217.2L522.1 208.9L523.7 204.1L525.4 209.1L527.0 212.4L528.2 223.0L529.2 258.7L529.9 278.9L529.9 289.4L531.2 308.0L532.5 326.3L533.2 341.7L533.7 336.7L534.8 329.2L535.8 316.0L537.0 339.4L538.2 309.5L539.5 282.8L539.8 257.2L541.0 302.0L541.1 233.8L542.0 220.3L542.0 251.1L543.0 274.0L543.1 239.6L544.5 255.2L545.8 268.5L547.0 278.4L547.5 289.9L548.6 306.0L549.4 309.8L550.3 344.5L551.1 363.3L552.4 367.4L554.1 366.6L555.3 367.4L556.4 362.4L557.7 366.6L559.4 367.4L560.7 359.1L561.9 364.1L563.1 367.4L564.4 362.4L565.7 359.1L566.9 362.4L568.0 352.5L569.4 350.3L570.7 336.4L571.9 329.7L573.0 318.0L574.0 305.3L575.0 299.4L576.0 327.6L576.0 322.8L577.3 328.1L577.7 309.5L578.2 312.0L579.0 332.9L579.3 332.9L580.0 336.9L580.2 337.9L581.0 330.1L582.6 344.5L584.3 335.9L586.0 331.2L587.3 322.9L588.9 300.2L590.6 323.6L591.8 339.2L593.4 324.6L595.1 297.4L596.3 314.3L597.6 339.2L598.9 321.8L600.1 335.2L601.2 322.9L602.6 341.0L603.7 324.3L605.1 321.3L606.2 334.2L607.5 348.0L608.9 349.3L610.0 356.1L611.7 360.8L612.9 367.4L614.5 357.8L615.8 369.1L617.5 362.4L618.8 361.6L620.5 368.3L622.5 370.1L626.6 370.1L627.5 369.7L628.3 370.1L645.7 370.1L647.7 368.3L649.0 360.8L650.7 360.0L652.4 363.3L654.0 365.8L656.0 370.1L659.0 370.1L659.8 364.1L661.0 362.4L662.0 359.1L663.2 356.1L664.3 340.2L665.6 330.9L667.0 339.5L668.1 322.6L669.8 327.6L671.0 322.6L672.3 308.2L673.4 312.6L674.8 327.6L676.4 317.6L677.6 328.6L678.9 327.9L680.2 339.2L681.4 337.5L682.2 326.1L683.6 348.0L684.7 369.9L686.4 360.8L687.6 359.1L688.5 368.3L690.5 369.6L692.2 370.1L713.8 370.1L714.6 359.1L715.8 352.0L717.1 359.5L718.4 362.4L719.6 364.1L721.3 369.9L722.9 365.8L724.6 354.5L725.9 339.5L726.7 336.7L727.9 352.7L728.7 366.6L730.1 359.1L731.7 360.0L732.9 351.3L734.0 343.5L735.4 343.7L736.7 349.5L738.4 355.1L739.5 359.1L742.0 359.1L743.7 359.5" stroke="#008000" stroke-width="1.55" clip-path="url(#cb)"/>
<path d="M79.3 203.8L82.2 203.8L83.3 217.9L84.3 211.2L85.5 226.2L86.6 227.8L88.0 239.5L89.3 244.4L90.9 229.5L92.6 210.4L93.8 229.5L94.6 242.8L95.9 236.1L96.8 249.4L97.9 241.1L98.9 233.7L99.6 274.3L100.4 291.9L101.2 300.2L102.1 274.3L102.4 280.3L102.9 260.2L103.7 282.0L103.9 281.0L104.6 315.2L105.4 343.4L105.9 271.0L106.2 305.2L106.6 237.8L107.5 211.2L108.7 203.8L110.4 202.9L111.5 209.6L112.9 227.8L113.7 226.2L114.2 254.4L114.2 293.6L114.9 330.1L115.8 356.7L116.5 362.5L117.8 341.7L119.2 325.1L120.3 341.7L121.5 351.7L122.8 355.0L124.5 366.6L126.1 360.0L127.8 358.3L129.1 345.0L130.3 336.7L131.5 343.4L132.8 326.8L133.6 325.1L134.8 341.7L136.1 302.7L137.4 318.5L138.6 323.5L139.8 333.4L141.1 336.7L141.9 345.0L143.1 340.1L144.4 305.2L145.6 285.9L145.6 286.1L146.6 303.5L147.7 311.8L149.0 333.4L150.2 318.5L151.0 336.7L152.4 343.4L153.5 356.7L154.7 362.5L156.0 363.3L157.7 364.1L159.0 360.0L159.7 297.7L161.0 321.8L162.7 356.7L164.0 358.3L164.7 330.1L166.0 308.5L167.3 325.1L168.5 348.4L169.8 362.5L171.3 351.7L172.6 343.4L174.3 343.4L175.6 331.8L176.8 313.5L177.9 321.8L179.3 325.1L180.1 338.4L181.3 320.1L182.6 308.5L184.2 328.4L185.6 343.4L186.4 295.2L186.7 279.3L187.6 255.2L187.9 282.0L188.4 259.4L189.6 229.5L190.9 222.0L192.2 244.4L193.4 267.7L193.7 306.9L194.5 287.6L195.0 280.3L195.5 262.7L196.7 281.0L196.7 315.2L198.4 288.6L199.2 281.0L200.3 261.0L201.2 310.2L201.7 287.6L202.5 282.0L202.8 259.4L204.2 251.1L205.8 221.2L207.2 242.8L208.3 306.9L209.1 271.0L210.0 285.3L210.5 221.2L211.6 212.9L212.8 224.5L213.8 254.4L214.5 274.3L214.5 283.6L215.5 284.3L215.5 292.8L216.6 267.7L216.6 280.3L217.8 244.4L218.8 252.7L219.9 242.8L221.1 262.7L221.6 288.6L222.4 281.0L222.8 303.5L223.8 267.7L224.9 242.8L226.1 224.5L227.4 221.2L228.7 212.1L229.9 226.2L231.1 209.6L232.4 231.2L233.7 244.4L234.9 232.8L235.7 214.6L237.0 242.8L237.4 293.6L237.7 281.0L239.0 282.6L239.0 282.0L239.9 305.2L241.0 321.8L242.0 336.7L243.2 323.5L244.0 325.1L244.3 338.4L245.3 345.0L245.7 350.0L247.0 341.7L247.3 345.0L248.2 350.0L249.8 347.5L251.5 335.1L252.3 351.7L253.6 346.7L254.8 358.3L256.0 361.6L257.3 368.3L258.9 368.3L260.6 364.1L262.3 358.3L263.9 361.6L265.9 367.5L268.1 367.5L269.7 361.6L270.9 351.7L271.9 326.8L273.1 341.7L274.2 330.1L275.2 312.7L276.4 326.8L277.2 324.3L278.0 335.1L279.4 351.7L280.5 335.1L281.8 330.1L283.0 338.4L284.2 330.1L285.2 320.1L286.3 311.8L287.5 326.8L288.8 338.4L290.1 348.4L291.3 340.1L292.5 346.7L293.8 338.4L295.1 348.4L296.3 336.7L297.5 341.7L298.8 350.0L300.1 355.0L301.3 345.0L302.4 333.4L303.4 351.7L304.6 358.3L305.8 350.0L306.7 345.0L307.9 351.7L309.1 355.0L310.4 358.3L312.1 361.6L313.4 358.3L314.6 356.7L315.7 360.0L317.0 355.0L318.4 356.7L319.5 353.3L320.7 358.3L322.0 354.2L323.3 361.6L324.5 355.0L325.7 350.0L327.0 338.4L328.3 321.8L329.5 315.2L330.3 323.5L331.3 313.5L332.3 328.4L333.6 345.0L334.8 338.4L335.8 333.4L337.0 343.4L338.1 355.0L339.5 348.4L340.6 361.6L341.9 367.5L343.6 368.6L346.1 367.9L347.3 355.0L348.2 341.7L349.4 351.7L350.6 341.7L351.9 345.0L352.7 335.1L353.6 343.4L354.9 313.5L355.6 254.4L356.1 288.6L356.5 237.8L357.7 257.7L358.2 295.2L359.0 321.8L359.9 288.6L360.5 237.8L361.5 203.3L363.5 203.3L364.8 214.6L366.0 203.8L367.7 236.1L368.8 203.3L370.2 203.8L371.5 217.9L372.7 212.9L373.8 237.8L374.8 267.7L375.6 229.5L376.8 239.5L378.1 242.8L379.3 271.0L379.8 291.9L381.0 316.8L382.1 293.6L383.1 281.0L383.4 282.0L384.8 321.8L386.1 346.7L387.6 321.8L388.8 301.9L389.8 298.6L390.9 313.5L392.6 338.4L393.7 277.6L393.7 305.2L394.7 272.7L394.7 278.6L395.9 305.2L396.7 331.8L398.1 318.5L399.2 313.5L400.4 277.0L400.5 276.0L401.7 288.6L403.0 296.9L404.2 313.5L405.0 321.0L406.4 296.9L407.0 254.4L408.0 214.6L408.7 208.8L409.5 237.8L410.0 254.4L410.5 271.0L411.3 296.9L411.7 313.5L412.5 321.8L413.0 346.7L413.7 345.0L414.0 358.3L415.0 356.7L416.3 360.0L417.5 369.9L418.3 360.0L419.1 369.1L421.6 369.1L424.1 367.5L426.6 368.6L428.6 365.0L430.3 362.5L431.6 368.3L434.6 368.6L437.4 368.6L438.6 358.3L439.5 338.4L440.4 313.5L441.2 291.9L442.4 288.6L443.2 284.3L443.2 284.5L444.5 301.9L445.7 281.0L445.7 288.6L446.9 266.0L448.2 254.4L449.3 235.3L449.8 282.0L450.7 254.4L451.8 264.4L453.2 241.1L454.5 259.4L455.2 237.0L456.1 267.7L457.3 288.6L458.1 254.4L458.1 311.8L459.0 288.6L459.3 229.5L460.3 254.4L461.5 235.3L462.8 237.8L463.5 281.0L464.4 293.6L465.6 301.9L466.8 288.6L467.3 271.0L468.1 275.3L468.4 254.4L469.4 274.3L470.6 254.4L471.8 242.0L473.1 266.0L474.4 247.8L474.7 318.5L475.6 257.7L475.6 296.9L476.7 236.1L478.1 305.2L479.4 315.2L480.6 301.9L481.7 291.9L483.0 319.3L483.9 246.1L483.9 288.6L484.7 199.6L486.0 211.2L487.2 202.1L488.4 207.9L489.7 203.8L491.3 209.6L492.7 217.9L493.8 202.1L495.0 209.6L496.0 204.6L497.2 217.1L498.0 206.3L499.6 221.2L500.8 237.8L501.6 256.9L502.6 204.6L503.8 202.9L504.6 221.2L505.5 226.2L506.6 204.6L507.9 209.6L509.1 203.8L510.1 202.1L510.9 221.2L511.8 239.5L512.9 204.6L514.6 202.9L517.1 203.3L518.7 204.6L519.9 211.2L520.9 215.4L522.1 204.6L523.7 203.3L525.4 206.3L527.0 209.6L528.2 221.2L529.2 254.4L529.9 277.6L529.9 288.6L531.2 305.2L532.5 323.5L533.7 335.9L534.8 328.4L535.8 315.2L537.0 335.1L538.2 305.2L539.5 282.0L539.8 254.4L541.1 229.5L542.0 219.5L543.1 237.8L544.5 254.4L545.8 267.7L547.0 277.6L547.5 288.6L548.6 305.2L549.4 308.5L550.3 341.7L551.1 362.5L552.4 366.6L554.1 365.8L555.3 366.6L556.4 361.6L557.7 365.8L559.4 366.6L560.7 358.3L561.9 363.3L563.1 366.6L564.4 361.6L565.7 358.3L566.9 361.6L568.0 351.7L569.4 347.5L570.7 335.1L571.9 328.4L573.0 315.2L574.0 303.5L575.0 298.6L576.0 326.8L576.0 318.5L577.3 326.8L577.7 307.7L578.2 307.7L579.0 330.1L579.3 330.1L580.0 335.1L580.2 335.1L581.0 329.3L582.6 341.7L584.3 335.1L586.0 328.4L587.3 320.1L588.9 299.4L590.6 321.8L591.8 338.4L593.4 321.8L595.1 296.6L596.3 313.5L597.6 338.4L598.9 321.0L600.1 333.4L601.2 320.1L602.6 336.7L603.7 323.5L605.1 318.5L606.2 333.4L607.5 346.7L608.9 345.0L610.0 353.3L611.7 360.0L612.9 366.6L614.5 355.0L615.8 368.3L617.5 361.6L618.8 360.8L620.5 367.5L622.5 369.9L626.6 369.9L627.5 368.9L628.3 369.9L645.7 369.9L647.7 367.5L649.0 360.0L650.7 359.2L652.4 362.5L654.0 365.0L656.0 369.9L659.0 369.9L659.8 363.3L661.0 361.6L662.0 358.3L663.2 353.3L664.3 338.4L665.6 330.1L667.0 336.7L668.1 321.8L669.8 326.8L671.0 321.8L672.3 306.9L673.4 311.8L674.8 326.8L676.4 314.8L677.6 326.8L678.9 325.1L680.2 338.4L681.4 336.7L682.2 324.3L683.6 346.7L684.7 369.1L686.4 360.0L687.6 358.3L688.5 367.5L690.5 368.8L692.2 369.9L713.8 369.9L714.6 358.3L715.8 349.2L717.1 356.7L718.4 361.6L719.6 363.3L721.3 369.1L722.9 365.0L724.6 351.7L725.9 336.7L726.7 335.9L727.9 348.4L728.7 365.8L730.1 358.3L731.7 359.2L732.9 350.0L734.0 341.7L735.4 340.9L736.7 346.7L738.4 353.3L739.5 358.3L742.0 358.3L743.7 358.7" stroke="#0000ff" stroke-width="1.55" clip-path="url(#cb)"/>
<path d="M79.3 434.3L80.5 445.0L81.7 455.0L82.6 448.4L83.8 461.6L84.6 453.3L84.6 465.0L86.0 487.4L87.1 481.6L88.3 473.3L89.3 485.7L89.6 468.3L90.5 471.6L90.9 458.3L91.6 463.3L92.1 455.8L92.9 458.3L93.3 469.9L93.8 469.9L94.6 451.7L95.9 453.3L96.8 475.8L97.1 466.6L97.9 451.7L97.9 460.0L99.1 444.2L99.2 465.0L100.4 482.4L101.6 476.6L102.9 459.2L102.9 460.0L103.7 479.9L104.9 513.1L105.9 504.8L106.6 445.0L106.6 471.6L107.9 435.9L109.0 450.0L110.4 442.6L111.2 446.7L112.5 455.0L113.2 468.3L113.7 451.7L114.2 504.8L114.9 533.0L115.8 513.1L116.7 494.0L117.8 509.8L118.7 497.3L119.5 518.1L120.8 526.4L122.0 530.5L123.2 521.4L124.5 531.4L125.3 520.6L126.5 522.2L127.5 507.3L128.3 521.4L129.5 518.1L130.8 524.7L132.0 511.4L133.1 496.5L134.4 489.9L135.8 477.4L136.4 488.2L137.4 482.4L138.6 484.9L139.4 496.5L140.7 481.6L141.9 471.6L141.9 471.6L142.7 488.2L143.6 504.0L144.4 470.8L144.7 470.8L145.7 476.6L146.6 495.7L147.7 508.1L148.9 519.7L149.9 501.5L151.0 498.2L152.2 482.4L153.0 486.5L154.0 511.4L154.9 520.6L156.0 508.1L157.3 500.7L158.5 504.8L159.3 497.3L159.8 461.6L159.8 461.6L161.0 484.9L161.8 504.8L163.0 518.1L164.3 528.0L165.6 532.2L166.8 513.1L167.6 529.7L168.8 521.4L170.1 509.8L171.3 528.0L172.3 541.3L173.5 529.7L174.6 524.7L175.9 530.5L177.1 521.4L178.4 523.1L179.6 526.4L180.9 521.4L182.2 516.4L183.1 504.8L184.2 510.6L185.6 501.5L186.7 471.6L187.2 455.0L187.6 461.6L188.4 450.0L189.6 435.1L190.9 421.8L192.2 426.8L193.0 425.1L193.9 445.0L195.0 443.4L195.5 460.0L195.9 461.6L196.7 502.3L197.9 455.0L197.9 468.3L198.8 443.4L200.0 435.9L200.8 450.0L202.2 438.4L203.3 425.1L204.5 415.2L205.5 400.2L206.7 418.5L207.5 451.7L208.6 465.8L208.8 465.8L210.0 438.4L210.8 405.2L212.1 406.9L212.8 406.0L213.8 421.8L215.0 448.4L215.3 476.6L216.6 438.4L218.3 425.1L219.4 432.6L220.4 426.0L221.6 446.7L222.8 458.3L222.8 458.3L224.1 455.0L224.9 430.1L225.7 413.5L226.9 438.4L227.9 410.2L228.7 402.7L229.9 426.8L230.7 423.5L231.9 414.3L232.7 430.1L234.0 449.2L234.9 421.8L236.0 418.5L237.0 441.7L237.9 458.3L238.2 457.5L238.7 446.7L239.9 451.7L241.0 465.0L241.5 462.5L242.3 462.5L242.7 463.3L243.7 463.3L243.7 471.6L244.0 462.5L244.0 463.3L244.8 503.1L244.8 501.5L246.0 509.8L246.0 511.4L247.3 521.4L247.3 523.1L248.6 518.1L249.8 526.4L250.6 513.1L252.0 521.4L253.1 528.0L254.8 528.9L256.0 524.7L256.9 538.0L258.1 531.4L259.3 534.7L260.3 540.5L261.4 531.4L263.1 527.2L264.3 533.0L265.6 536.3L266.9 522.2L268.1 542.2L269.2 536.3L270.6 538.0L271.9 521.4L273.1 518.9L274.2 518.1L275.5 503.1L276.7 521.4L278.0 526.4L279.2 518.1L280.5 508.1L281.8 504.8L283.0 506.5L284.2 503.1L285.5 495.7L286.8 511.4L288.0 513.9L289.2 504.8L290.5 501.5L291.6 504.8L293.0 494.8L294.1 498.2L295.1 506.5L296.3 476.6L296.8 465.0L297.1 465.8L298.0 471.6L298.0 474.9L299.1 469.9L299.3 468.3L300.4 460.8L300.4 461.6L301.6 471.6L301.8 469.9L302.4 478.2L302.9 471.6L303.4 470.8L304.1 473.3L304.6 479.9L305.4 465.0L305.4 484.1L306.3 465.8L306.7 464.1L307.4 465.0L307.9 471.6L308.4 478.2L309.6 477.4L310.7 482.4L312.1 487.4L313.2 480.7L314.1 499.8L315.0 491.5L315.9 481.6L317.0 501.5L318.4 509.8L319.5 517.3L320.7 504.8L322.0 489.0L323.0 508.1L324.0 493.2L325.3 504.8L326.5 513.9L327.8 503.1L328.7 515.6L330.0 506.5L331.2 504.8L332.3 511.4L333.6 519.7L334.8 509.8L335.8 499.8L337.0 518.1L337.8 528.9L339.0 504.8L339.8 492.4L341.1 498.2L342.4 499.8L343.6 517.3L344.9 508.1L346.1 499.8L347.3 499.0L348.2 482.4L349.4 484.9L351.1 476.6L351.9 496.5L352.7 513.1L353.9 520.6L355.2 509.8L356.1 471.6L356.9 445.0L358.2 471.6L358.9 499.0L359.4 465.0L359.9 471.6L360.2 438.4L361.0 413.5L361.9 398.6L363.2 397.7L364.4 399.4L365.5 403.5L366.3 393.6L367.2 406.9L368.0 418.5L368.8 387.8L369.8 386.6L371.0 390.3L372.7 392.8L373.5 405.2L374.6 420.1L375.6 401.9L376.8 391.9L377.6 401.9L378.8 406.9L379.8 428.4L380.6 444.2L381.8 430.1L383.1 424.3L384.3 438.4L385.1 450.0L385.9 458.3L385.9 458.3L387.1 451.7L388.4 438.4L389.6 431.8L390.9 446.7L392.2 458.3L393.4 438.4L394.2 428.4L395.1 416.0L395.9 438.4L396.7 451.7L398.1 455.0L399.2 445.0L400.4 427.6L401.7 430.1L403.0 441.7L403.9 461.6L404.7 466.6L405.0 467.5L406.4 451.7L407.2 421.8L408.0 396.1L408.8 413.5L409.7 438.4L410.0 438.4L410.8 445.0L411.3 446.7L412.0 451.7L412.5 461.6L413.0 473.3L413.0 474.9L413.7 471.6L414.0 471.6L414.2 465.0L415.0 463.3L415.5 463.3L416.6 493.2L418.0 474.9L418.3 469.9L418.6 470.8L419.6 488.2L420.8 504.0L422.0 491.5L422.9 498.2L424.1 481.6L424.9 478.2L425.8 501.5L426.6 529.7L427.4 543.8L428.6 546.3L429.6 537.2L430.4 546.3L431.6 552.9L433.2 556.6L435.2 552.9L436.9 544.6L438.6 534.7L439.9 518.1L440.9 497.3L442.0 513.1L443.2 504.8L444.4 484.9L445.4 471.6L445.4 472.4L446.5 488.2L447.8 503.1L449.0 483.2L450.2 484.9L451.2 513.9L452.3 496.5L454.0 486.5L455.2 494.8L456.5 504.8L457.8 505.6L459.0 467.5L459.3 466.6L460.3 487.4L461.5 473.3L461.8 471.6L462.8 464.1L463.1 463.3L463.6 488.2L464.4 471.6L464.8 466.6L465.6 468.3L466.1 476.6L467.3 458.3L467.3 463.3L468.4 468.3L468.4 458.3L469.4 455.0L469.4 467.5L470.6 445.0L471.8 432.6L472.7 455.0L473.4 465.0L473.9 468.3L474.4 490.7L475.6 465.0L475.6 471.6L476.4 453.3L477.7 494.0L479.2 502.3L480.6 482.4L481.7 492.4L483.0 499.0L484.2 471.6L484.7 443.4L485.5 438.4L486.7 430.1L487.7 416.8L488.9 425.1L490.0 438.4L491.3 439.2L492.5 447.5L493.5 421.8L494.3 405.2L495.2 421.8L496.0 438.4L497.2 431.8L498.5 435.1L499.6 451.7L500.8 464.1L501.0 465.0L502.1 446.7L503.3 435.1L504.3 423.5L505.5 415.2L505.8 440.9L506.3 406.0L507.6 415.2L508.8 401.1L510.1 403.5L510.9 421.8L511.8 442.6L512.6 408.5L513.8 436.7L514.9 402.7L515.9 430.1L517.1 415.2L518.2 411.0L519.2 426.8L520.4 425.1L521.6 431.8L522.9 448.4L524.0 419.3L525.0 438.4L526.2 433.4L527.4 441.7L528.2 438.4L529.2 455.0L529.9 471.6L530.4 468.3L531.2 491.5L532.5 504.8L533.3 512.3L534.5 506.5L535.8 508.1L537.0 504.8L538.2 508.1L539.5 489.9L540.3 503.1L541.5 480.7L542.8 491.5L543.6 479.9L544.5 476.6L545.3 488.2L546.5 498.2L547.8 508.1L549.1 514.8L550.3 531.4L551.1 538.8L552.8 536.3L554.4 533.9L556.1 539.7L557.7 546.3L559.4 550.9L561.4 546.3L563.1 550.0L565.2 548.0L566.9 546.3L568.5 541.3L570.2 535.5L571.9 531.4L573.5 526.4L574.7 511.4L575.5 505.6L576.0 515.6L576.5 511.4L577.7 502.3L577.7 503.1L578.5 510.6L579.0 509.8L580.0 509.8L580.2 508.1L581.5 516.4L583.0 518.1L584.3 520.6L585.5 513.1L586.5 506.5L587.6 515.6L588.9 498.2L589.6 492.4L590.6 509.8L591.8 518.9L592.9 496.5L594.3 488.2L595.1 484.9L595.9 493.2L597.2 483.2L598.4 471.6L599.2 465.0L599.2 465.8L600.1 468.3L600.6 466.6L601.2 453.3L601.4 456.7L602.2 466.6L602.2 471.6L602.9 500.7L603.4 465.0L603.7 465.8L604.6 471.6L605.1 473.3L605.9 479.9L607.0 474.9L607.9 487.4L609.2 483.2L610.4 493.2L611.4 494.8L612.0 484.9L612.9 499.8L614.2 504.8L615.0 521.4L615.8 511.4L617.0 519.7L617.8 509.0L618.8 521.4L620.0 514.8L621.2 523.1L622.5 519.7L623.6 524.7L624.6 528.0L625.5 520.6L626.6 526.4L627.8 521.4L629.1 509.8L630.4 499.8L631.6 491.5L632.8 483.2L633.8 477.4L634.9 485.7L636.6 490.7L637.9 494.8L638.7 506.5L639.9 510.6L641.6 512.3L642.7 514.8L644.1 506.5L645.4 509.8L646.6 508.1L647.9 513.9L649.0 512.3L650.4 518.1L651.5 524.7L652.9 521.4L654.0 526.4L655.3 528.0L656.5 533.0L658.2 538.0L659.3 541.3L660.7 540.5L661.5 544.6L662.7 536.3L664.0 528.0L665.1 520.6L666.5 525.6L667.6 518.9L669.0 517.3L670.3 515.6L671.5 508.1L672.8 505.6L673.9 519.7L675.3 524.7L676.4 523.1L677.6 521.4L678.9 523.9L680.2 524.7L681.4 518.9L682.6 518.1L683.6 526.4L684.4 538.0L685.6 528.9L686.4 538.0L687.6 544.6L688.9 549.6L690.5 551.8L692.2 551.3L693.5 547.1L695.2 545.5L696.8 548.8L698.0 544.6L699.7 541.3L700.8 545.5L702.2 538.0L703.0 534.7L704.2 536.3L705.2 543.0L706.8 547.1L708.5 546.3L709.6 534.7L710.5 532.2L711.8 539.7L713.0 545.5L713.8 543.8L714.6 549.6L715.8 541.3L717.1 542.2L718.4 546.3L720.1 550.5L722.1 551.8L723.7 548.0L725.4 539.7L726.7 534.7L727.6 542.2L728.4 540.5L729.2 550.5L730.7 548.0L732.9 545.5L735.0 541.3L737.0 542.2L739.5 542.2L741.7 539.7L743.7 537.2L744.3 536.3" stroke="#000000" stroke-width="1.6" clip-path="url(#cc)"/>
</g>
<path d="M78.70 3.60L78.70 552.80M744.80 3.60L744.80 552.80M78.10 3.60L745.40 3.60M78.10 186.70L745.40 186.70M78.10 369.60L745.40 369.60M78.10 552.80L745.40 552.80M823.40 3.60L823.40 552.80M1019.30 3.60L1019.30 552.80M822.80 3.60L1019.90 3.60M822.80 186.70L1019.90 186.70M822.80 369.60L1019.90 369.60M822.80 552.80L1019.90 552.80" stroke="#000" stroke-width="1.25" fill="none"/>
<g font-family="'Liberation Serif', serif" fill="#000" opacity="0.999" stroke="#000" stroke-width="0.25"><text x="55.2" y="192.9" font-size="18.5" text-anchor="end" >0.0</text><text x="55.2" y="159.6" font-size="18.5" text-anchor="end" >0.2</text><text x="55.2" y="126.4" font-size="18.5" text-anchor="end" >0.4</text><text x="55.2" y="93.1" font-size="18.5" text-anchor="end" >0.6</text><text x="55.2" y="59.9" font-size="18.5" text-anchor="end" >0.8</text><text x="55.2" y="26.6" font-size="18.5" text-anchor="end" >1.0</text><text x="55.2" y="375.8" font-size="18.5" text-anchor="end" >0.0</text><text x="55.2" y="342.5" font-size="18.5" text-anchor="end" >0.2</text><text x="55.2" y="309.3" font-size="18.5" text-anchor="end" >0.4</text><text x="55.2" y="276.0" font-size="18.5" text-anchor="end" >0.6</text><text x="55.2" y="242.8" font-size="18.5" text-anchor="end" >0.8</text><text x="55.2" y="209.5" font-size="18.5" text-anchor="end" >1.0</text><text x="55.2" y="559.0" font-size="18.5" text-anchor="end" >0.0</text><text x="55.2" y="525.7" font-size="18.5" text-anchor="end" >0.2</text><text x="55.2" y="492.5" font-size="18.5" text-anchor="end" >0.4</text><text x="55.2" y="459.2" font-size="18.5" text-anchor="end" >0.6</text><text x="55.2" y="426.0" font-size="18.5" text-anchor="end" >0.8</text><text x="55.2" y="392.7" font-size="18.5" text-anchor="end" >1.0</text><text x="78.9" y="588.8" font-size="18.5" text-anchor="middle" >38420</text><text x="174.1" y="588.8" font-size="18.5" text-anchor="middle" >38421</text><text x="269.2" y="588.8" font-size="18.5" text-anchor="middle" >38422</text><text x="364.4" y="588.8" font-size="18.5" text-anchor="middle" >38423</text><text x="459.5" y="588.8" font-size="18.5" text-anchor="middle" >38424</text><text x="554.7" y="588.8" font-size="18.5" text-anchor="middle" >38425</text><text x="649.8" y="588.8" font-size="18.5" text-anchor="middle" >38426</text><text x="745.0" y="588.8" font-size="18.5" text-anchor="middle" >38427</text><text x="829.4" y="588.7" font-size="18.5" text-anchor="middle" >0</text><text x="866.3" y="588.7" font-size="18.5" text-anchor="middle" >0.2</text><text x="903.3" y="588.7" font-size="18.5" text-anchor="middle" >0.4</text><text x="940.2" y="588.7" font-size="18.5" text-anchor="middle" >0.6</text><text x="977.2" y="588.7" font-size="18.5" text-anchor="middle" >0.8</text><text x="1014.1" y="588.7" font-size="18.5" text-anchor="middle" >1</text><text x="411.8" y="611.1" font-size="21.9" text-anchor="middle" >day from 01/01/1900</text><text x="921.2" y="612.2" font-size="21.9" text-anchor="middle" >relative power output</text><text transform="translate(19.1,277.9) rotate(-90)" font-size="21.9" text-anchor="middle">relative power output</text><text transform="translate(765.9,277.8) rotate(-90)" font-size="21.9" text-anchor="middle">normalized frequency</text><text x="81.0" y="550.4" font-size="18.6" text-anchor="start" >03/09/2005</text><text x="698.6" y="26.9" font-size="21.9" text-anchor="start" >(a)</text><text x="699.8" y="214.9" font-size="21.9" text-anchor="start" >(b)</text><text x="703.0" y="405.1" font-size="21.9" text-anchor="start" >(c)</text><text x="800.6" y="42.6" font-size="18.5" text-anchor="end">10<tspan dy="-10.3" font-size="12.4">1</tspan></text><text x="800.6" y="103.8" font-size="18.5" text-anchor="end">10<tspan dy="-10.3" font-size="12.4">0</tspan></text><text x="800.6" y="165.0" font-size="18.5" text-anchor="end">10<tspan dy="-10.3" font-size="12.4">-1</tspan></text><text x="800.6" y="225.7" font-size="18.5" text-anchor="end">10<tspan dy="-10.3" font-size="12.4">1</tspan></text><text x="800.6" y="286.9" font-size="18.5" text-anchor="end">10<tspan dy="-10.3" font-size="12.4">0</tspan></text><text x="800.6" y="348.1" font-size="18.5" text-anchor="end">10<tspan dy="-10.3" font-size="12.4">-1</tspan></text><text x="800.6" y="408.6" font-size="18.5" text-anchor="end">10<tspan dy="-10.3" font-size="12.4">1</tspan></text><text x="800.6" y="469.8" font-size="18.5" text-anchor="end">10<tspan dy="-10.3" font-size="12.4">0</tspan></text><text x="800.6" y="531.0" font-size="18.5" text-anchor="end">10<tspan dy="-10.3" font-size="12.4">-1</tspan></text><text x="981.5" y="34.3" font-size="22.5" font-weight="bold" font-style="italic" fill="#ff0000" stroke="#ff0000">P<tspan dy="8.4" font-size="15.8">K</tspan></text><text x="929.3" y="221.1" font-size="22.5" font-weight="bold" font-style="italic" fill="#0000ff" stroke="#0000ff">P<tspan dy="8.6" font-size="15.8">M1</tspan></text><text x="977.6" y="221.1" font-size="22.5" font-weight="bold" font-style="italic" fill="#00ff00" stroke="#00ff00">P<tspan dy="8.6" font-size="15.8">M2</tspan></text><text x="988.5" y="408.5" font-size="22.5" font-weight="bold" font-style="italic" fill="#000">P<tspan dy="8.4" dx="-1" font-size="15" font-weight="normal" font-style="normal">&#931;</tspan></text></g>
</svg>
</body></html>
